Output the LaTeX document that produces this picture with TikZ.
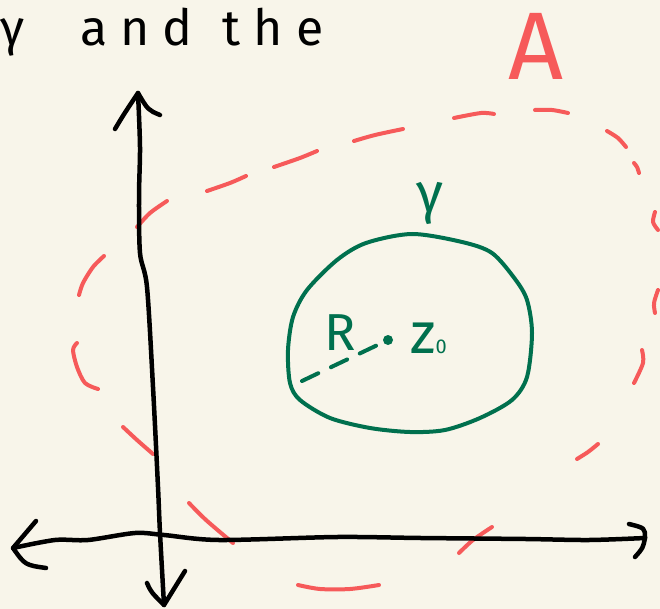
\documentclass[tikz,border=0pt]{standalone}
\usepackage{fontspec}
\setmainfont{Fira Sans}
\definecolor{bg}{HTML}{F8F5EA}
\definecolor{penred}{HTML}{F65A5A}
\definecolor{pengreen}{HTML}{00704E}
\begin{document}
\begin{tikzpicture}[x=1pt,y=-1pt,
  axis/.style={line width=4.5pt, line cap=round, line join=round, black},
  reddash/.style={line width=4pt, line cap=round, line join=round, penred},
  greenpen/.style={line width=4pt, line cap=round, line join=round, pengreen},
  lbl/.style={inner sep=0pt, anchor=base}]
\fill[bg] (0,0) rectangle (660,609);
\useasboundingbox (0,0) rectangle (660,609);

% title text
\node[inner sep=0pt, anchor=base west] (title) at (0,46)
  {\fontsize{50}{50}\selectfont γ\hspace{56pt}{\addfontfeatures{LetterSpace=26}and}\hspace{30pt}{\addfontfeatures{LetterSpace=26}the}};

% label A
\node[lbl, text=penred] (labelA) at (536,80) {\fontsize{96}{96}\selectfont A};

% red dashed region A
\draw[reddash] plot[smooth] coordinates {(104,256) (93,267) (83,283) (79,295)};
\draw[reddash] plot[smooth] coordinates {(137,227) (150,213) (167,201)};
\draw[reddash] plot[smooth] coordinates {(207,191) (230,183) (246,176)};
\draw[reddash] plot[smooth] coordinates {(274,167) (300,158) (317,151)};
\draw[reddash] plot[smooth] coordinates {(354,141) (375,135) (403,129)};
\draw[reddash] plot[smooth] coordinates {(454,118) (481,113) (494,114)};
\draw[reddash] plot[smooth] coordinates {(535,110) (552,110) (568,113)};
\draw[reddash] plot[smooth] coordinates {(607,131) (618,138) (626,147)};
\draw[reddash] plot[smooth] coordinates {(634,163) (637,167) (639,173)};
\draw[reddash] plot[smooth] coordinates {(655,212) (653,222) (658,230)};
\draw[reddash] plot[smooth] coordinates {(658,290) (654,303) (655,313)};
\draw[reddash] plot[smooth] coordinates {(642,350) (643,363) (634,383)};
\draw[reddash] plot[smooth] coordinates {(598,444) (588,452) (577,459)};
\draw[reddash] plot[smooth] coordinates {(492,527) (473,540) (459,553)};
\draw[reddash] plot[smooth] coordinates {(379,585) (350,589) (320,589) (298,585)};
\draw[reddash] plot[smooth] coordinates {(233,543) (206,520) (189,503)};
\draw[reddash] plot[smooth] coordinates {(153,454) (137,440) (123,427)};
\draw[reddash] plot[smooth] coordinates {(98,389) (85,383) (77,367) (73,350) (77,343)};

% axes
\coordinate (ytop) at (138,93);
\coordinate (ybot) at (164,605);
\coordinate (xleft) at (13,548);
\coordinate (xright) at (645,538);
\draw[axis] plot[smooth] coordinates {(ytop) (140,147) (139,197) (140,253) (147,287) (153,387) (158,487) (160,533) (ybot)};
\draw[axis] (115,129) .. controls (124,114) .. (ytop) .. controls (148,110) .. (160,115);
\draw[axis] (147,583) .. controls (151,592) .. (ybot) -- (185,571);
\draw[axis] plot[smooth] coordinates {(xleft) (55,540) (88,540) (135,533) (164,535) (219,540) (337,537) (421,538) (526,539) (589,540) (xright)};
\draw[axis] (36,521) .. controls (25,535) .. (xleft) .. controls (25,565) .. (46,568);
\draw[axis] (629,524) .. controls (645,528) .. (xright) .. controls (643,548) .. (635,557);

% green circle gamma
\draw[greenpen] plot[smooth cycle] coordinates {(412,234) (462,242) (492,253) (515,279) (527,300) (532,333) (527,377) (512,400) (480,418) (445,430) (410,432) (370,428) (330,418) (300,400) (290,383) (288,350) (293,317) (307,290) (337,260) (366,243)};
\node[lbl, text=pengreen] (gammalbl) at (430,213) {\fontsize{56}{56}\selectfont γ};

% centre z0 and radius R
\node[circle, fill=pengreen, inner sep=0pt, minimum size=10pt] (z0dot) at (388,340) {};
\node[lbl, text=pengreen] (Rlbl) at (340,350) {\fontsize{52}{52}\selectfont R};
\node[lbl, text=pengreen, anchor=base west] (z0lbl) at (410,353) {\fontsize{58}{58}\selectfont z\fontsize{20}{20}\selectfont 0};
\coordinate (rend) at (302,381);
\draw[greenpen, dash pattern=on 18pt off 14pt] (rend) -- (z0dot);
\end{tikzpicture}
\end{document}
